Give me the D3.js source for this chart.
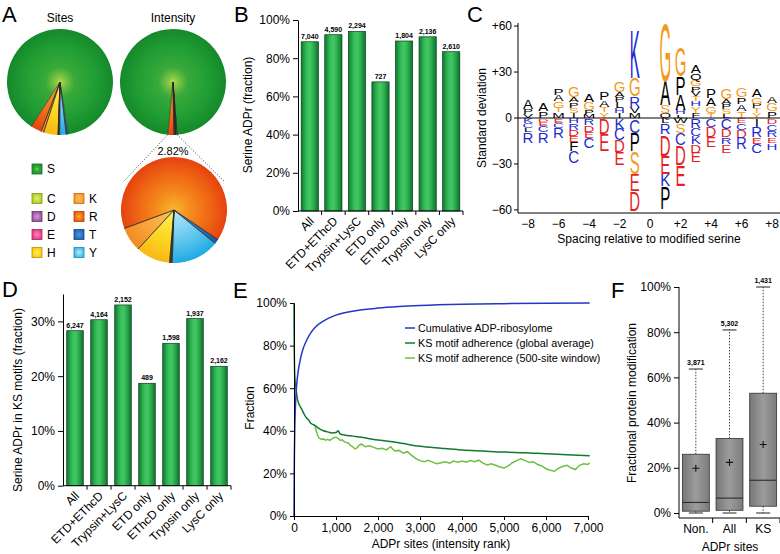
<!DOCTYPE html>
<html><head><meta charset="utf-8">
<script src="https://cdnjs.cloudflare.com/ajax/libs/d3/7.8.5/d3.min.js"></script>
<style>
body{margin:0;background:#fff;}
svg{display:block;font-family:"Liberation Sans",Arial,Helvetica,sans-serif;}
svg text{fill:#000;}
</style></head><body>
<script>
// ================= DATA =================
// Panel A
const pieOrder = ["T","Y","C","D","E","H","K","R","S"];
const legendCol1 = ["S","C","D","E","H"];
const legendCol2 = ["K","R","T","Y"];
const sitesShare = {T:0.6, Y:2.0, C:0.3, D:0.1, E:0.1, H:4.4, K:0.8, R:3.3, S:88.4};
const intensityNonSerine = 2.82;
const nonSerineIntensityShare = {T:1.4, Y:14.7, C:0.3, D:0.2, E:0.3, H:10.5, K:7.5, R:65.1};
const intensityLabel = "2.82%";

// Panel B
const bCategories = ["All","ETD+EThcD","Trypsin+LysC","ETD only","EThcD only","Trypsin only","LysC only"];
const bSerineFraction = [88.6, 92.3, 94.0, 67.6, 89.0, 91.2, 83.4];
const bCounts = ["7,040","4,590","2,294","727","1,804","2,136","2,610"];
const bTicks = [0,20,40,60,80,100];

// Panel D
const dCategories = ["All","ETD+EThcD","Trypsin+LysC","ETD only","EThcD only","Trypsin only","LysC only"];
const dKsFraction = [28.3, 30.3, 33.0, 18.7, 26.0, 30.5, 21.8];
const dCounts = ["6,247","4,164","2,152","489","1,598","1,937","2,162"];
const dTicks = [0,10,20,30];

// Panel C (sequence logo, standard deviations). above: top->line, below: line->bottom
const cPositions = [-8,-7,-6,-5,-4,-3,-2,-1,1,2,3,4,5,6,7,8];
const cAbove = [
  [["A",6],["P",3],["V",2.5]],
  [["A",5.5],["P",4]],
  [["P",4],["A",4],["G",4],["T",3],["M",3.5]],
  [["G",7],["A",3.5],["P",3.5],["S",3.5],["I",3]],
  [["A",5],["G",5],["P",2.5],["M",2.5]],
  [["P",5.5],["A",4.5],["T",3.5],["Y",3.5]],
  [["G",6.5],["A",3.3],["P",3.3],["L",4],["H",3.3],["I",3]],
  [["K",32],["G",12],["R",7],["V",4],["M",3]],
  [["G",38],["A",16],["S",5],["Q",3]],
  [["G",19],["P",12],["A",10],["H",3],["L",2]],
  [["A",5],["Q",4],["G",4.5],["P",3.5],["V",3],["T",3],["H",3.3],["Y",4.5],["F",3]],
  [["P",6],["A",5],["G",4.5],["T",3]],
  [["G",6.5],["A",3.3],["P",3.3],["S",3.3],["L",2.5]],
  [["G",6],["P",4.5],["A",4.5],["T",4.4]],
  [["A",5],["G",4.5],["P",3],["T",3],["Y",3]],
  [["A",4.5],["G",5],["P",4.5]]
];
const cBelow = [
  [["K",3],["C",3],["L",2.5],["R",7]],
  [["D",2],["E",2.5],["C",4],["R",7]],
  [["E",2.5],["C",3.5],["R",6.5]],
  [["H",3],["R",4],["D",4],["E",4],["F",6],["C",8]],
  [["R",4],["D",4.5],["E",4],["C",6.5]],
  [["D",10],["E",11]],
  [["K",6.5],["C",7.5],["D",7.5],["E",8.5]],
  [["C",9],["P",12],["S",15],["E",11],["D",13]],
  [["L",3],["R",7],["D",14],["E",12],["K",8],["P",15]],
  [["W",3],["S",6],["C",8],["D",13],["E",14]],
  [["R",6],["C",5],["K",5.5],["D",5.5],["E",6.5]],
  [["C",5.5],["D",6.5],["E",6.5]],
  [["C",6.5],["D",5.5],["R",4.5],["E",5.5]],
  [["E",3],["C",4],["D",5.5],["R",7.5]],
  [["I",5.5],["R",6.5],["E",4.5],["C",6]],
  [["D",3.7],["C",4],["R",4.5],["E",3.5],["H",4.5]]
];
const cYTicks = [60,30,0,-30,-60];
const cYTickLabels = ["+60","+30","0","\u221230","\u221260"];
const cXTicks = [-8,-6,-4,-2,0,2,4,6,8];
const cXTickLabels = ["\u22128","\u22126","\u22124","\u22122","0","+2","+4","+6","+8"];

// Panel E
const eCumSites = [0,5,10,20,35,50,75,100,150,200,300,400,500,700,1000,1500,2000,2500,3000,4000,5000,6000,7040];
const eCumValues = [0,20,30,42,52,58,64,68,73.5,77.5,82.5,86,88.5,91.5,94.3,96.5,97.6,98.3,98.8,99.4,99.7,99.9,100];
const eGlobalSites = [0,3,8,15,25,40,60,80,100,130,160,200,250,300,350,400,450,500,600,700,800,900,1000,1050,1100,1200,1400,1600,1800,2000,2300,2600,3000,3500,4000,4500,5000,5500,6000,6500,7040];
const eGlobalValues = [100,85,75,68,64,61,58,55,53.5,52,51,49.5,47.5,46,45,43.5,43,42.5,41,40,39.5,39,39.2,40,38.5,38,37.5,37,36.3,35.7,35,34,32.7,31.8,31,30.5,30,29.7,29.2,28.8,28.3];
const eWindowSites = [500,530,560,600,650,700,750,800,850,900,950,1000,1050,1100,1150,1200,1300,1350,1400,1450,1500,1550,1600,1700,1800,1900,2000,2100,2200,2300,2350,2400,2500,2600,2700,2800,2900,3000,3100,3200,3300,3400,3500,3600,3700,3800,3900,4000,4100,4200,4300,4400,4500,4600,4700,4800,4900,5000,5100,5200,5300,5400,5500,5600,5700,5800,5900,6000,6100,6200,6300,6400,6500,6600,6700,6800,6900,7000,7040];
const eWindowValues = [42.5,40,38,36.5,36,36.2,35.6,36,35.5,36.2,36.8,37,36.5,35.5,35.8,34.8,34.2,33,32.5,31.5,32,33.2,33.8,32.5,33,32.2,31.5,31.8,31,32.5,31.5,30.5,30.8,29.5,30.2,28.5,27,26,25.5,26.2,25.3,24.5,25,25.5,24.8,25.8,25.2,25.8,25.3,26,25.5,26.2,24.8,24,24.5,23.8,23,22.5,23.5,25,26,26.8,26,25.2,25.5,24.2,23.5,22.2,21.5,21,22.5,23.2,23.8,22.5,21.8,23.8,24.5,24.2,25];
const eSeriesNames = ["Cumulative ADP-ribosylome","KS motif adherence (global average)","KS motif adherence (500-site window)"];
const eXTicks = [0,1000,2000,3000,4000,5000,6000,7000];
const eYTicks = [0,20,40,60,80,100];

// Panel F
const fCategories = ["Non.","All","KS"];
const fCounts = ["3,871","5,302","1,431"];
const fMin = [0,0,0];
const fQ1 = [0.8,1.2,3];
const fMedian = [4.7,6.6,14.5];
const fQ3 = [26,33,53];
const fMax = [63.7,81,100];
const fMean = [19.8,22.4,30.3];
const fYTicks = [0,20,40,60,80,100];

// ================= STYLES =================
const resGrad = {
  S: [[0,"#b4dc4c"],[0.1,"#80c443"],[0.28,"#38aa3a"],[0.7,"#1f9c33"],[1,"#15892a"]],
  C: [[0,"#e2ef6a"],[1,"#a4c21c"]],
  D: [[0,"#d29ad2"],[1,"#8e3f92"]],
  E: [[0,"#fa86b8"],[1,"#e02a7c"]],
  H: [[0,"#fff35a"],[0.6,"#fcd420"],[1,"#f9b814"]],
  K: [[0,"#fdc65a"],[1,"#f28c22"]],
  R: [[0,"#f8b830"],[0.3,"#f58e1e"],[0.7,"#ef6414"],[1,"#e5420f"]],
  T: [[0,"#4f95da"],[1,"#145aa8"]],
  Y: [[0,"#b8e8fa"],[0.6,"#62c6ee"],[1,"#1eaae4"]]
};
const resStroke = {S:"#1a6e26",C:"#7f9a18",D:"#6e2e72",E:"#b0205e",H:"#c08a10",K:"#c06a18",R:"#b8400e",T:"#0e4a8a",Y:"#1a88b8"};
const logoColor = {K:"#1b2bd2",R:"#1b2bd2",H:"#1b2bd2",C:"#1b2bd2",D:"#e61e1e",E:"#e61e1e",G:"#f39a1c",S:"#f39a1c",T:"#f39a1c",Y:"#f39a1c"};

// ================= SVG =================
const svg = d3.select("body").append("svg").attr("width",780).attr("height",554);
const defs = svg.append("defs");

function addRadial(id, stops, opts) {
  const g = defs.append("radialGradient").attr("id", id);
  if (opts) Object.entries(opts).forEach(([k,v]) => g.attr(k,v));
  stops.forEach(([o,c]) => g.append("stop").attr("offset",o).attr("stop-color",c));
}
const bg = defs.append("linearGradient").attr("id","barGrad").attr("x1",0).attr("x2",1).attr("y1",0).attr("y2",0);
[[0,"#0b7a2f"],[0.3,"#34b957"],[0.5,"#44c865"],[0.7,"#2fb052"],[1,"#0a742c"]].forEach(([o,c])=>bg.append("stop").attr("offset",o).attr("stop-color",c));
const boxg = defs.append("linearGradient").attr("id","boxGrad").attr("x1",0).attr("x2",1);
[[0,"#777"],[0.5,"#9c9c9c"],[1,"#7c7c7c"]].forEach(([o,c])=>boxg.append("stop").attr("offset",o).attr("stop-color",c));
Object.keys(resGrad).forEach(k => addRadial("lg-"+k, resGrad[k], {cx:"50%",cy:"50%",r:"65%"}));

// Panel letters
const panelLabels = [["A",2,22],["B",234,22],["C",467,22],["D",2,297],["E",233,298],["F",611,298]];
svg.selectAll("text.plabel").data(panelLabels).join("text").attr("class","plabel")
  .attr("x",d=>d[1]).attr("y",d=>d[2]).attr("font-size",22).text(d=>d[0]);

// ================= PANEL A =================
const gA = svg.append("g");
function drawPie(cx, cy, r, shares, startDeg, prefix) {
  const entries = pieOrder.filter(k => shares[k] != null).map(k => ({k, v: shares[k]}));
  entries.forEach(e => addRadial(prefix+e.k, resGrad[e.k], {gradientUnits:"userSpaceOnUse", cx:0, cy:0, r:r}));
  const s = startDeg*Math.PI/180;
  const arcs = d3.pie().sort(null).value(d=>d.v).startAngle(s).endAngle(s+2*Math.PI)(entries);
  const arc = d3.arc().innerRadius(0).outerRadius(r);
  const g = gA.append("g").attr("transform",`translate(${cx},${cy})`);
  g.selectAll("path").data(arcs).join("path").attr("d",arc).attr("fill",d=>`url(#${prefix}${d.data.k})`);
  const seps = [];
  arcs.forEach(a => { if (a.data.k !== "S") { seps.push(a.startAngle); seps.push(a.endAngle); } });
  g.selectAll("line").data(seps).join("line")
    .attr("x1",0).attr("y1",0).attr("x2",a=>r*Math.sin(a)).attr("y2",a=>-r*Math.cos(a))
    .attr("stroke","#2a2a2a").attr("stroke-width",0.6);
  return arcs;
}
drawPie(60, 82, 53, sitesShare, 171, "ps-");
const intShares = {};
Object.entries(nonSerineIntensityShare).forEach(([k,v]) => intShares[k] = v*intensityNonSerine/100);
intShares.S = 100 - intensityNonSerine;
const intArcs = drawPie(173, 82, 53, intShares, 175.5, "pi-");
drawPie(174, 210, 53, nonSerineIntensityShare, 124, "pz-");
const nonS = intArcs.filter(a => a.data.k !== "S");
const aStart = d3.min(nonS, a=>a.startAngle), aEnd = d3.max(nonS, a=>a.endAngle);
const p1 = [173 + 53*Math.sin(aStart), 82 - 53*Math.cos(aStart)];
const p2 = [173 + 53*Math.sin(aEnd), 82 - 53*Math.cos(aEnd)];
const t1 = [174 + 58*Math.sin(61*Math.PI/180), 210 - 58*Math.cos(61*Math.PI/180)];
const t2 = [174 + 58*Math.sin(-61*Math.PI/180), 210 - 58*Math.cos(-61*Math.PI/180)];
gA.append("line").attr("x1",p1[0]).attr("y1",p1[1]).attr("x2",t1[0]).attr("y2",t1[1]).attr("stroke","#333").attr("stroke-width",0.8).attr("stroke-dasharray","1.2,1.6");
gA.append("line").attr("x1",p2[0]).attr("y1",p2[1]).attr("x2",t2[0]).attr("y2",t2[1]).attr("stroke","#333").attr("stroke-width",0.8).attr("stroke-dasharray","1.2,1.6");
gA.append("text").attr("x",173).attr("y",155).attr("text-anchor","middle").attr("font-size",11).text(intensityLabel);
gA.append("text").attr("x",60).attr("y",22).attr("text-anchor","middle").attr("font-size",12).text("Sites");
gA.append("text").attr("x",173).attr("y",22).attr("text-anchor","middle").attr("font-size",12).text("Intensity");
const legRows = {S:169, C:198.5, D:216.5, E:234.5, H:252.5, K:198.5, R:216.5, T:234.5, Y:252.5};
function legItem(k, x) {
  const y = legRows[k];
  gA.append("rect").attr("x",x).attr("y",y-5).attr("width",10).attr("height",10)
    .attr("fill",`url(#lg-${k})`).attr("stroke",resStroke[k]).attr("stroke-width",0.8);
  gA.append("text").attr("x",x+15).attr("y",y).attr("dy","0.36em").attr("font-size",12).text(k);
}
legendCol1.forEach(k => legItem(k, 32));
legendCol2.forEach(k => legItem(k, 74));

// ================= BAR PANELS (B, D) =================
function barPanel(o) {
  const g = svg.append("g");
  const x = d3.scaleBand().domain(o.cats).range([o.x0,o.x1]).paddingInner(o.pad).paddingOuter(o.pad/2);
  const y = d3.scaleLinear().domain([0,o.yMax]).range([o.yB,o.yT]);
  g.selectAll("rect.bar").data(o.cats).join("rect").attr("class","bar")
    .attr("x",d=>x(d)).attr("width",x.bandwidth())
    .attr("y",(d,i)=>y(o.vals[i])).attr("height",(d,i)=>o.yB - y(o.vals[i]))
    .attr("fill","url(#barGrad)").attr("stroke","#0b3d18").attr("stroke-width",0.7);
  g.selectAll("text.cnt").data(o.cats).join("text").attr("class","cnt")
    .attr("x",d=>x(d)+x.bandwidth()/2).attr("y",(d,i)=>y(o.vals[i])-3)
    .attr("text-anchor","middle").attr("font-size",7).attr("font-weight","bold").text((d,i)=>o.counts[i]);
  const ya = g.append("g").attr("transform",`translate(${o.x0},0)`)
    .call(d3.axisLeft(y).tickValues(o.ticks).tickFormat(d=>d+"%").tickSize(5).tickSizeOuter(0).tickPadding(3));
  ya.attr("font-family",null).attr("font-size",12);
  g.append("line").attr("x1",o.x0).attr("x2",o.x1).attr("y1",o.yB).attr("y2",o.yB).attr("stroke","#000");
  const step = x.step();
  g.selectAll("line.xt").data(d3.range(1,o.cats.length+1)).join("line").attr("class","xt")
    .attr("x1",k=>o.x0+k*step).attr("x2",k=>o.x0+k*step).attr("y1",o.yB).attr("y2",o.yB+4).attr("stroke","#000");
  g.selectAll("text.xl").data(o.cats).join("text").attr("class","xl")
    .attr("transform",d=>`translate(${x(d)+x.bandwidth()/2+2},${o.yB+8}) rotate(-45)`)
    .attr("text-anchor","end").attr("dy","0.35em").attr("font-size",12).text(d=>d);
  g.append("text").attr("transform",`translate(${o.ylx},${o.yly}) rotate(-90)`)
    .attr("text-anchor","middle").attr("font-size",12).text(o.ylabel);
}
barPanel({cats:bCategories, vals:bSerineFraction, counts:bCounts, x0:298, x1:463, yB:211, yT:20, yMax:100, ticks:bTicks, pad:0.27, ylabel:"Serine ADPr (fraction)", ylx:252, yly:115});
barPanel({cats:dCategories, vals:dKsFraction, counts:dCounts, x0:63, x1:231, yB:485.7, yT:294, yMax:35, ticks:dTicks, pad:0.31, ylabel:"Serine ADPr in KS motifs (fraction)", ylx:22, yly:400});

// ================= PANEL C =================
const gC = svg.append("g");
const xC = d3.scaleLinear().domain([-8,8]).range([528,772]);
const yC = d3.scaleLinear().domain([-62,62]).range([213,23]);
const F = 15, capH = 0.716*F;
function drawLetter(L, cx, yBottom, h) {
  gC.append("text").attr("transform",`translate(${cx},${yBottom}) scale(1,${h/capH})`)
    .attr("text-anchor","middle").attr("font-size",F).style("fill",logoColor[L]||"#000").text(L);
}
cPositions.forEach((pos,i) => {
  const cx = xC(pos);
  let yb = yC(0) - 0.5;
  cAbove[i].slice().reverse().forEach(([L,v]) => { const h = yC(0)-yC(v); drawLetter(L,cx,yb,h); yb -= h; });
  let yt = yC(0) + 0.8;
  cBelow[i].forEach(([L,v]) => { const h = yC(-v)-yC(0); drawLetter(L,cx,yt+h,h); yt += h; });
});
gC.append("line").attr("x1",518).attr("x2",780).attr("y1",yC(0)).attr("y2",yC(0)).attr("stroke","#000");
gC.append("line").attr("x1",518).attr("x2",780).attr("y1",213).attr("y2",213).attr("stroke","#000");
gC.append("line").attr("x1",518).attr("x2",518).attr("y1",23).attr("y2",213).attr("stroke","#000");
gC.selectAll("line.yt").data(cYTicks).join("line").attr("class","yt")
  .attr("x1",514).attr("x2",518).attr("y1",d=>yC(d)).attr("y2",d=>yC(d)).attr("stroke","#000");
gC.selectAll("text.yl").data(cYTicks).join("text").attr("class","yl")
  .attr("x",512).attr("y",d=>yC(d)).attr("dy","0.35em").attr("text-anchor","end").attr("font-size",12)
  .text((d,i)=>cYTickLabels[i]);
gC.selectAll("text.xl").data(cXTicks).join("text").attr("class","xl")
  .attr("x",d=>xC(d)).attr("y",228).attr("text-anchor","middle").attr("font-size",12)
  .text((d,i)=>cXTickLabels[i]);
gC.append("text").attr("x",649).attr("y",243).attr("text-anchor","middle").attr("font-size",12).text("Spacing relative to modified serine");
gC.append("text").attr("transform","translate(486,118) rotate(-90)").attr("text-anchor","middle").attr("font-size",12).text("Standard deviation");

// ================= PANEL E =================
const gE = svg.append("g");
const xE = d3.scaleLinear().domain([0,7000]).range([294,588]);
const yE = d3.scaleLinear().domain([0,100]).range([516,303]);
const lineE = (curve) => d3.line().x(d=>xE(d[0])).y(d=>yE(d[1])).curve(curve);
gE.append("path").datum(d3.zip(eWindowSites,eWindowValues)).attr("d",lineE(d3.curveLinear))
  .attr("fill","none").attr("stroke","#6cc13e").attr("stroke-width",1.5);
gE.append("path").datum(d3.zip(eGlobalSites,eGlobalValues)).attr("d",lineE(d3.curveMonotoneX))
  .attr("fill","none").attr("stroke","#127a30").attr("stroke-width",1.5);
gE.append("path").datum(d3.zip(eCumSites,eCumValues)).attr("d",lineE(d3.curveMonotoneX))
  .attr("fill","none").attr("stroke","#2237c8").attr("stroke-width",1.5);
const xaE = gE.append("g").attr("transform","translate(0,516)")
  .call(d3.axisBottom(xE).tickValues(eXTicks).tickFormat(d3.format(",")).tickSize(4).tickSizeOuter(0).tickPadding(3));
xaE.attr("font-family",null).attr("font-size",12);
const yaE = gE.append("g").attr("transform","translate(294,0)")
  .call(d3.axisLeft(yE).tickValues(eYTicks).tickFormat(d=>d+"%").tickSize(4).tickSizeOuter(0).tickPadding(3));
yaE.attr("font-family",null).attr("font-size",12);
gE.append("text").attr("x",441).attr("y",548).attr("text-anchor","middle").attr("font-size",12).text("ADPr sites (intensity rank)");
gE.append("text").attr("transform","translate(254,408) rotate(-90)").attr("text-anchor","middle").attr("font-size",12).text("Fraction");
const eColors = ["#2237c8","#127a30","#6cc13e"];
eSeriesNames.forEach((n,i) => {
  const y = 328 + i*15;
  gE.append("line").attr("x1",405).attr("x2",415).attr("y1",y).attr("y2",y).attr("stroke",eColors[i]).attr("stroke-width",1.5);
  gE.append("text").attr("x",418).attr("y",y).attr("dy","0.35em").attr("font-size",10.8).text(n);
});

// ================= PANEL F =================
const gF = svg.append("g");
const xF = d3.scaleBand().domain(fCategories).range([679,780]).paddingInner(0.2).paddingOuter(0.1);
const yF = d3.scaleLinear().domain([0,100]).range([513,287]);
fCategories.forEach((c,i) => {
  const cx = xF(c) + xF.bandwidth()/2, bw = xF.bandwidth();
  gF.append("line").attr("x1",cx).attr("x2",cx).attr("y1",yF(fQ3[i])).attr("y2",yF(fMax[i]))
    .attr("stroke","#444").attr("stroke-dasharray","1.5,1.5");
  gF.append("line").attr("x1",cx).attr("x2",cx).attr("y1",yF(fQ1[i])).attr("y2",yF(fMin[i]))
    .attr("stroke","#444").attr("stroke-dasharray","1.5,1.5");
  [fMax[i], fMin[i]].forEach(v => gF.append("line").attr("x1",cx-7).attr("x2",cx+7).attr("y1",yF(v)).attr("y2",yF(v)).attr("stroke","#222"));
  gF.append("rect").attr("x",xF(c)).attr("width",bw).attr("y",yF(fQ3[i])).attr("height",yF(fQ1[i])-yF(fQ3[i]))
    .attr("fill","url(#boxGrad)").attr("stroke","#333").attr("stroke-width",0.8);
  gF.append("line").attr("x1",xF(c)).attr("x2",xF(c)+bw).attr("y1",yF(fMedian[i])).attr("y2",yF(fMedian[i])).attr("stroke","#222").attr("stroke-width",1);
  const my = yF(fMean[i]);
  gF.append("path").attr("d",`M${cx-3.5},${my}H${cx+3.5}M${cx},${my-3.5}V${my+3.5}`).attr("stroke","#111").attr("stroke-width",1.1);
  gF.append("text").attr("x",cx).attr("y",yF(fMax[i])-4).attr("text-anchor","middle").attr("font-size",7).attr("font-weight","bold").text(fCounts[i]);
});
gF.append("line").attr("x1",679).attr("x2",679).attr("y1",287).attr("y2",518).attr("stroke","#000");
gF.append("line").attr("x1",679).attr("x2",780).attr("y1",518).attr("y2",518).attr("stroke","#000");
const yaF = gF.append("g").attr("transform","translate(679,0)")
  .call(d3.axisLeft(yF).tickValues(fYTicks).tickFormat(d=>d+"%").tickSize(5).tickSizeOuter(0).tickPadding(3));
yaF.attr("font-family",null).attr("font-size",12);
yaF.select(".domain").remove();
const stepF = xF.step();
gF.selectAll("line.xt").data([1,2,3]).join("line").attr("class","xt")
  .attr("x1",k=>679+k*stepF).attr("x2",k=>679+k*stepF).attr("y1",518).attr("y2",523).attr("stroke","#000");
gF.selectAll("text.xl").data(fCategories).join("text").attr("class","xl")
  .attr("x",d=>xF(d)+xF.bandwidth()/2).attr("y",533).attr("text-anchor","middle").attr("font-size",12).text(d=>d);
gF.append("text").attr("x",730).attr("y",551).attr("text-anchor","middle").attr("font-size",12).text("ADPr sites");
gF.append("text").attr("transform","translate(636,403) rotate(-90)").attr("text-anchor","middle").attr("font-size",12).text("Fractional protein modification");
</script></body></html>
